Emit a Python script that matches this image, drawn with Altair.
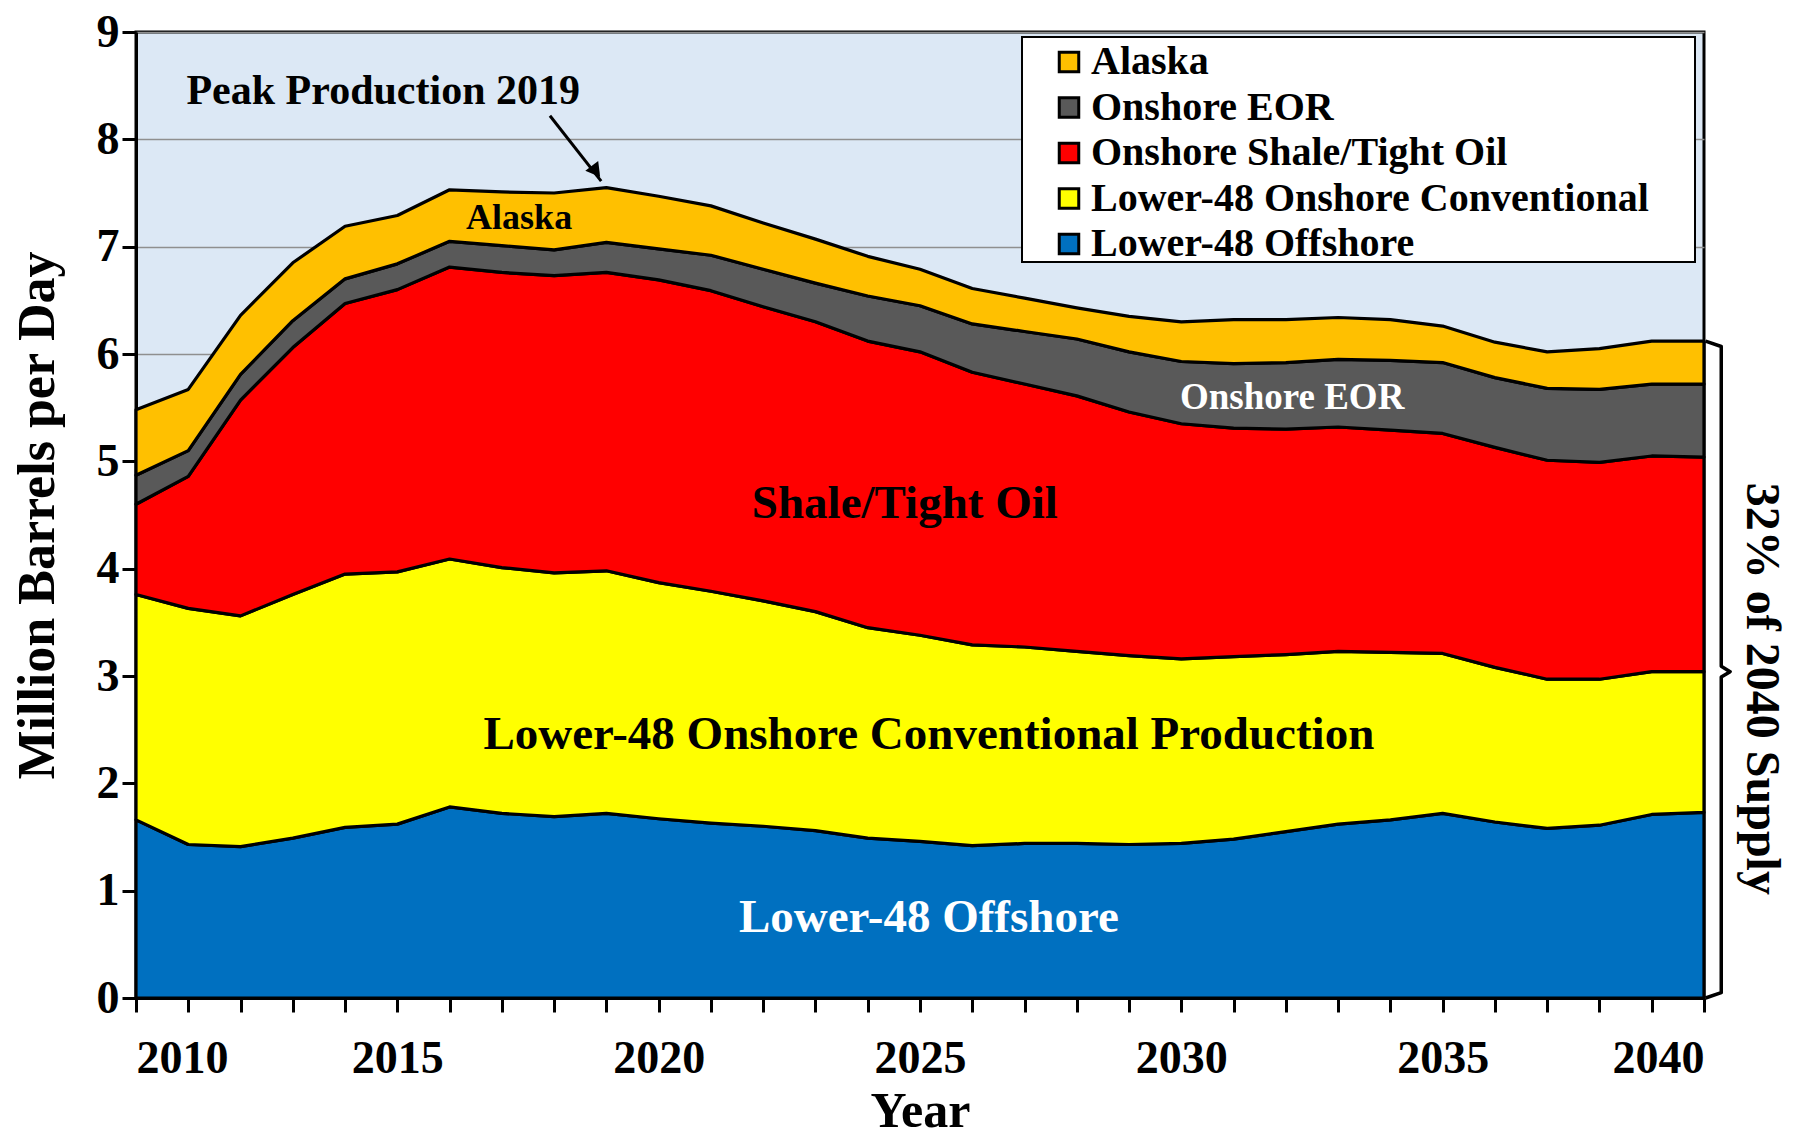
import altair as alt
import pandas as pd

years = list(range(2010, 2041))

# Layer thicknesses, million barrels per day
offshore = [1.66, 1.43, 1.41, 1.49, 1.59, 1.62, 1.78, 1.72, 1.69, 1.72, 1.67, 1.63, 1.60, 1.56, 1.49, 1.46,
            1.42, 1.44, 1.44, 1.43, 1.44, 1.48, 1.55, 1.62, 1.66, 1.72, 1.64, 1.58, 1.61, 1.71, 1.73]
conventional = [2.10, 2.20, 2.15, 2.27, 2.36, 2.35, 2.31, 2.29, 2.27, 2.26, 2.20, 2.16, 2.10, 2.04, 1.96, 1.92,
                1.87, 1.83, 1.79, 1.76, 1.72, 1.70, 1.65, 1.61, 1.56, 1.49, 1.44, 1.39, 1.36, 1.33, 1.31]
shale = [0.84, 1.23, 2.01, 2.30, 2.52, 2.63, 2.72, 2.75, 2.77, 2.78, 2.82, 2.80, 2.74, 2.70, 2.67, 2.64,
         2.54, 2.45, 2.38, 2.27, 2.19, 2.13, 2.10, 2.09, 2.07, 2.05, 2.05, 2.04, 2.02, 2.01, 2.00]
eor = [0.27, 0.24, 0.24, 0.25, 0.23, 0.24, 0.24, 0.25, 0.24, 0.28, 0.29, 0.33, 0.35, 0.36, 0.42, 0.43,
       0.45, 0.49, 0.53, 0.56, 0.58, 0.60, 0.62, 0.63, 0.65, 0.66, 0.65, 0.67, 0.68, 0.67, 0.68]
alaska = [0.61, 0.57, 0.55, 0.54, 0.49, 0.45, 0.48, 0.50, 0.53, 0.51, 0.49, 0.46, 0.43, 0.41, 0.37, 0.34,
          0.33, 0.31, 0.29, 0.33, 0.37, 0.41, 0.40, 0.39, 0.38, 0.34, 0.33, 0.34, 0.38, 0.40, 0.40]

series_names = ["Lower-48 Offshore", "Lower-48 Onshore Conventional", "Onshore Shale/Tight Oil",
                "Onshore EOR", "Alaska"]
series_colors = ["#0070C0", "#FFFF00", "#FF0000", "#595959", "#FFC000"]
series_values = [offshore, conventional, shale, eor, alaska]

y_ticks = list(range(0, 10))

label_texts = ["Peak Production 2019", "Alaska", "Onshore EOR", "Shale/Tight Oil",
               "Lower-48 Onshore Conventional Production", "Lower-48 Offshore"]
label_x = [2014.73, 2017.33, 2032.12, 2024.71, 2025.17, 2025.17]
label_y = [8.45, 7.27, 5.59, 4.60, 2.45, 0.75]
label_size = [42, 36, 37, 47, 47, 47]
label_color = ["black", "black", "white", "black", "black", "white"]

side_text = "32% of 2040 Supply"

FONT = "Liberation Serif"
W, H = 1568, 966

rows = []
for k, (name, vals) in enumerate(zip(series_names, series_values)):
    for yr, v in zip(years, vals):
        rows.append({"year": yr, "series": name, "value": v, "order": k})
df = pd.DataFrame(rows)

legend_order = series_names[::-1]
legend_colors = series_colors[::-1]

x_scale = alt.Scale(domain=[2010, 2040], nice=False, zero=False)
y_scale = alt.Scale(domain=[0, 9], nice=False, zero=True)

# white legend box (decoration behind the legend entries)
legend_box = alt.Chart(pd.DataFrame({"k": [0]})).mark_rect(
    fill="white", stroke="black", strokeWidth=2).encode(
    x=alt.value(886), x2=alt.value(1559), y=alt.value(5), y2=alt.value(230))

areas = alt.Chart(df).mark_area(stroke="black", strokeWidth=3.2, opacity=1, strokeJoin="round").encode(
    x=alt.X("year:Q", scale=x_scale,
            axis=alt.Axis(values=years, format="d",
                          labelExpr="datum.value % 5 == 0 ? datum.label : ''",
                          title="Year", grid=False, titlePadding=5, labelPadding=24,
                          titleFontSize=50)),
    y=alt.Y("value:Q", stack="zero", scale=y_scale,
            axis=alt.Axis(values=y_ticks, format="d", title="Million Barrels per Day", grid=True,
                          titlePadding=32, labelPadding=3)),
    color=alt.Color("series:N", scale=alt.Scale(domain=legend_order, range=legend_colors),
                    legend=alt.Legend(orient="none", legendX=913, legendY=10, title=None,
                                      padding=0,
                                      labelFont=FONT, labelFontSize=40, labelFontWeight="bold",
                                      labelColor="black", symbolType="square", symbolSize=380,
                                      symbolStrokeColor="black", symbolStrokeWidth=3,
                                      symbolOpacity=1, rowPadding=5.5, labelOffset=2,
                                      labelLimit=700)),
    order=alt.Order("order:Q", sort="ascending"),
)

# Bracket at the right of 2040, derived from the 2040 stack
total_2040 = sum(v[-1] for v in series_values)
mid_2040 = offshore[-1] + conventional[-1]
br_x = [2040.03, 2040.33, 2040.33, 2040.5, 2040.33, 2040.33, 2040.03]
br_y = [total_2040, total_2040 - 0.05, mid_2040 + 0.05, mid_2040, mid_2040 - 0.05, 0.05, 0.0]
bracket_df = pd.DataFrame({"x": br_x, "y": br_y, "i": list(range(len(br_x)))})
bracket = alt.Chart(bracket_df).mark_line(color="black", strokeWidth=3.5, strokeJoin="round").encode(
    x=alt.X("x:Q", scale=x_scale), y=alt.Y("y:Q", scale=y_scale), order="i:Q")

side_df = pd.DataFrame({"x": [2041.09], "y": [mid_2040 - 0.16], "t": [side_text]})
side = alt.Chart(side_df).mark_text(font=FONT, fontWeight="bold", fontSize=48, angle=90,
                                    color="black", baseline="middle", align="center").encode(
    x=alt.X("x:Q", scale=x_scale), y=alt.Y("y:Q", scale=y_scale), text="t:N")

# Arrow to the 2019 peak
peak_idx = years.index(2019)
peak_total = sum(v[peak_idx] for v in series_values)
arrow_df = pd.DataFrame({"x": [2017.92], "y": [8.22], "x2": [2018.9], "y2": [peak_total + 0.06]})
arrow_line = alt.Chart(arrow_df).mark_rule(color="black", strokeWidth=3).encode(
    x=alt.X("x:Q", scale=x_scale), y=alt.Y("y:Q", scale=y_scale), x2="x2:Q", y2="y2:Q")
head_df = pd.DataFrame({"x": [2018.8], "y": [peak_total + 0.15]})
arrow_head = alt.Chart(head_df).mark_point(shape="triangle-down", filled=True, color="black",
                                           size=260, angle=323, opacity=1).encode(
    x=alt.X("x:Q", scale=x_scale), y=alt.Y("y:Q", scale=y_scale))

labels_df = pd.DataFrame({"x": label_x, "y": label_y, "t": label_texts,
                          "s": label_size, "c": label_color})
labels = alt.Chart(labels_df).mark_text(font=FONT, fontWeight="bold", baseline="middle",
                                        align="center").encode(
    x=alt.X("x:Q", scale=x_scale), y=alt.Y("y:Q", scale=y_scale), text="t:N",
    size=alt.Size("s:Q", scale=None), color=alt.Color("c:N", scale=None))

chart = alt.layer(areas, legend_box, arrow_line, arrow_head, labels, bracket, side).properties(
    width=W, height=H,
    autosize=alt.AutoSizeParams(type="none"),
    padding={"left": 128, "top": 24, "right": 85, "bottom": 136},
    background="white",
).configure_view(
    fill="#dce8f5", stroke="black", strokeWidth=3
).configure_axis(
    labelFont=FONT, labelFontSize=46, labelFontWeight="bold", labelColor="black",
    titleFont=FONT, titleFontSize=52, titleFontWeight="bold", titleColor="black",
    domainColor="black", domainWidth=3, tickColor="black", tickWidth=3, tickSize=14,
    gridColor="#8f8f8f", gridWidth=1.5
)

chart.save("out.html", embed_options={"renderer": "svg", "actions": False})
